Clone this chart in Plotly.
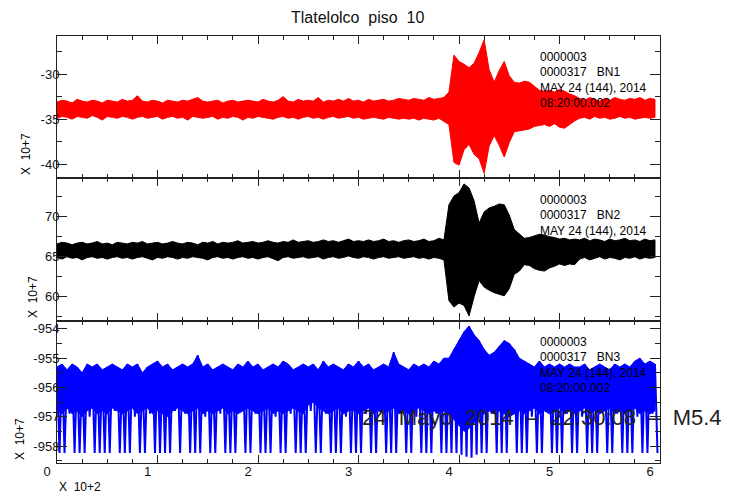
import plotly.graph_objects as go
from plotly.subplots import make_subplots

# ---------------- data (envelope samples) ----------------
DT = 0.05  # bin width in units of 10^2 s

bn1_hi = [-33.1,-32.9,-33.0,-33.2,-32.8,-33.0,-33.1,-32.9,-33.0,-33.2,
          -32.9,-33.0,-33.1,-32.8,-33.0,-32.9,-32.4,-33.0,-33.1,-32.9,
          -33.0,-33.2,-32.9,-33.0,-33.1,-32.9,-33.0,-32.8,-32.6,-33.0,
          -33.1,-33.0,-32.9,-33.2,-33.0,-32.9,-33.1,-33.0,-32.9,-33.0,
          -33.1,-32.8,-33.0,-33.1,-32.9,-32.5,-33.0,-33.1,-32.8,-33.0,
          -32.9,-33.0,-32.6,-33.1,-32.9,-33.0,-32.8,-33.0,-32.7,-33.0,
          -32.9,-33.1,-32.8,-33.0,-32.9,-32.8,-33.0,-32.9,-32.7,-32.8,
          -32.9,-32.7,-32.8,-32.9,-32.6,-32.8,-32.7,-32.6,
          -32.0,-27.9,-28.6,-28.9,-29.3,-28.8,-27.6,-26.2,-29.5,-30.9,
          -29.6,-28.6,-30.2,-30.9,-31.0,-30.8,-30.9,-31.4,-31.8,-31.9,
          -31.8,-32.0,-31.7,-31.9,-32.2,-32.4,
          -32.7,-32.9,-32.6,-32.8,-33.0,-32.7,-32.9,-32.6,-32.8,-32.9,
          -32.7,-32.8,-32.6,-32.9,-32.7,-32.8]
bn1_lo = [-34.9,-34.7,-34.8,-35.0,-34.7,-34.8,-34.9,-34.6,-34.8,-35.1,
          -34.7,-34.8,-34.9,-34.7,-34.8,-35.0,-34.8,-34.7,-34.9,-34.8,
          -34.7,-35.0,-34.8,-34.7,-34.9,-34.8,-35.1,-34.7,-34.8,-34.9,
          -34.8,-34.7,-35.0,-34.8,-34.9,-34.7,-34.8,-35.1,-34.8,-34.9,
          -34.7,-34.8,-34.9,-35.0,-34.8,-34.7,-34.9,-34.8,-35.0,-34.8,
          -34.7,-34.9,-34.8,-35.0,-34.8,-34.7,-34.9,-34.8,-34.7,-34.9,
          -34.8,-35.0,-34.9,-34.8,-34.9,-35.0,-34.8,-34.9,-35.0,-34.9,
          -35.0,-34.9,-35.1,-34.9,-35.0,-35.1,-34.9,-35.2,
          -35.6,-39.8,-40.1,-38.4,-37.8,-38.9,-39.4,-41.0,-38.0,-36.8,
          -37.9,-39.2,-37.6,-36.4,-36.3,-36.2,-36.1,-35.8,-35.7,-35.6,
          -35.8,-35.5,-35.9,-36.0,-35.6,-35.2,
          -34.9,-34.8,-35.0,-34.7,-34.9,-34.8,-35.0,-34.9,-34.7,-34.9,
          -34.8,-35.0,-34.9,-34.8,-34.9,-34.8]

bn2_hi = [66.6,66.8,66.7,66.5,66.7,66.8,66.6,66.7,66.9,66.6,
          66.7,66.5,66.8,66.7,66.6,66.8,66.7,66.9,66.6,66.7,
          66.8,66.6,66.7,66.9,66.7,66.6,66.8,66.7,66.5,66.8,
          66.7,66.9,66.6,66.8,66.7,66.8,67.0,66.7,66.8,66.9,
          66.7,66.8,67.0,66.8,66.7,66.9,66.8,67.1,66.8,66.9,
          67.0,66.8,66.9,67.1,66.9,67.0,66.8,67.0,67.2,66.9,
          67.0,66.9,67.1,66.9,67.0,67.2,66.9,67.0,66.8,67.0,
          67.1,66.9,67.0,67.2,66.9,67.0,67.3,67.1,
          71.5,72.6,73.0,74.1,73.6,72.0,69.2,70.6,71.1,71.3,
          71.6,71.5,70.2,68.4,67.8,67.3,67.4,67.6,67.8,67.7,
          67.5,67.4,67.2,67.3,67.1,67.2,
          67.1,67.3,67.0,67.2,67.1,66.9,67.2,67.0,67.1,67.3,
          67.0,67.1,66.9,67.2,67.0,67.1]
bn2_lo = [64.9,64.7,65.0,64.8,64.9,64.6,64.9,65.0,64.8,64.9,
          64.7,64.9,65.0,64.8,64.9,64.7,64.9,65.0,64.8,64.6,
          64.9,64.8,65.0,64.9,64.7,64.9,64.8,65.0,64.9,64.8,
          64.6,64.9,65.0,64.8,64.9,64.7,64.9,65.0,64.8,64.9,
          64.7,64.9,65.0,64.8,64.5,64.9,65.0,64.8,64.9,65.0,
          64.8,64.9,65.0,64.7,64.9,65.0,64.8,64.9,65.1,64.9,
          64.8,65.0,64.9,64.7,64.9,65.0,64.8,64.9,65.0,64.8,
          64.9,65.0,64.8,64.9,64.7,64.9,64.8,64.6,
          59.5,58.7,59.2,58.9,57.6,60.0,62.0,61.2,60.8,60.5,
          60.3,60.1,61.0,62.8,63.2,64.0,63.9,63.5,63.3,63.2,
          63.6,63.8,64.1,63.9,64.1,64.0,
          64.7,64.9,64.6,64.8,65.0,64.7,64.9,64.8,64.6,64.9,
          64.8,65.0,64.7,64.9,64.8,64.9]

bn3_hi = [-955.3,-955.2,-955.4,-955.2,-955.3,-955.5,-955.2,-955.3,-955.2,-955.4,
          -955.3,-955.2,-955.3,-955.4,-955.2,-955.3,-955.2,-955.5,-955.3,-955.2,
          -955.1,-955.3,-955.2,-955.4,-955.3,-955.2,-955.3,-955.2,-954.9,-955.3,
          -955.2,-955.4,-955.3,-955.2,-955.3,-955.4,-955.2,-955.3,-955.1,-955.3,
          -955.2,-955.4,-955.3,-955.2,-955.3,-955.1,-955.2,-955.4,-955.3,-955.2,
          -955.3,-955.2,-955.4,-955.1,-955.3,-955.2,-955.3,-955.4,-955.2,-955.3,
          -955.1,-955.3,-955.2,-955.4,-955.3,-955.2,-955.3,-954.8,-955.2,-955.3,
          -955.4,-955.2,-955.3,-955.2,-955.3,-955.1,-955.2,-955.0,
          -955.0,-954.7,-954.4,-954.1,-953.9,-954.2,-954.4,-954.7,-954.9,-954.8,
          -954.6,-954.4,-954.5,-954.7,-955.0,-955.1,-955.2,-955.3,-955.1,-955.3,
          -955.2,-955.3,-955.2,-955.3,-955.2,-955.3,
          -955.3,-955.2,-955.4,-955.3,-955.2,-955.3,-955.4,-955.2,-955.3,-955.2,
          -955.3,-955.1,-955.0,-955.2,-955.1,-955.2]
# lower edge of the solid part of the BN3 band
bn3_core = [-956.8,-956.9,-956.7,-956.9,-956.8,-957.0,-956.8,-956.7,-956.9,-956.8,
            -956.9,-956.7,-956.8,-956.9,-956.8,-956.7,-956.9,-956.8,-956.7,-956.9,
            -956.8,-956.9,-957.0,-956.8,-956.7,-956.8,-956.9,-956.8,-956.7,-956.9,
            -956.8,-956.9,-956.8,-956.7,-956.9,-956.8,-956.9,-956.8,-956.7,-956.8,
            -956.9,-956.8,-956.7,-956.9,-956.8,-956.9,-956.8,-956.7,-956.8,-956.9,
            -956.6,-956.5,-956.7,-956.8,-956.9,-956.8,-956.7,-956.9,-956.8,-956.8,
            -956.9,-956.8,-956.7,-956.9,-956.8,-956.9,-956.8,-956.7,-956.9,-956.8,
            -956.9,-956.8,-956.7,-956.8,-956.9,-956.8,-956.9,-956.8,
            -956.9,-957.1,-957.3,-957.5,-957.4,-957.2,-957.0,-956.9,-956.8,-956.9,
            -956.8,-956.9,-957.0,-956.9,-956.8,-956.9,-956.8,-956.7,-956.9,-956.8,
            -956.9,-956.8,-956.7,-956.9,-956.8,-956.9,
            -956.8,-956.7,-956.9,-956.8,-956.9,-956.8,-956.7,-956.9,-956.8,-956.9,
            -956.8,-956.7,-956.9,-956.8,-956.9,-956.8]
# lowest excursion per bin (spikes reach the clipped floor near -958.24)
bn3_lo = [-958.24,-958.24,-956.9,-958.24,-958.24,-958.24,-957.0,-958.24,-958.24,-958.24,
          -958.24,-956.8,-958.24,-958.24,-958.24,-957.0,-958.24,-958.24,-956.9,-958.24,
          -958.24,-958.24,-958.24,-956.8,-958.24,-956.9,-958.24,-958.24,-958.24,-957.0,
          -958.24,-958.24,-956.9,-958.24,-958.24,-958.24,-956.8,-958.24,-958.24,-956.9,
          -958.24,-958.24,-958.24,-957.0,-958.24,-958.24,-956.9,-958.24,-958.24,-958.24,
          -956.8,-958.24,-958.24,-956.9,-958.24,-958.24,-958.24,-957.0,-958.24,-958.24,
          -958.24,-956.9,-958.24,-958.24,-956.8,-958.24,-958.24,-958.24,-956.9,-958.24,
          -958.24,-957.0,-958.24,-958.24,-958.24,-956.9,-958.24,-958.24,-958.24,-958.24,
          -958.3,-958.37,-958.4,-958.3,-958.24,-958.24,-956.9,-958.24,-958.24,-958.24,
          -956.9,-958.24,-958.24,-958.24,-957.0,-958.24,-958.24,-956.8,-958.24,-958.24,
          -958.24,-956.9,-958.24,-958.24,-957.0,-958.24,-958.24,-958.24,-956.8,-958.24,
          -958.24,-956.9,-958.24,-958.24,-958.24,-957.0,-958.24,-958.24,-956.9,-958.24]

x_ticks = [0, 1, 2, 3, 4, 5, 6]
bn1_ticks = [-40, -35, -30]
bn2_ticks = [60, 65, 70]
bn3_ticks = [-958, -957, -956, -955, -954]

x_range = [0, 6.0]
bn1_range = [-41.56, -25.78]
bn2_range = [57.0, 74.8]
bn3_range = [-958.58, -953.72]

header = ["0000003", "0000317   BN{}", "MAY 24 (144), 2014", "08:20:00.002"]
title_text = "Tlatelolco  piso  10"
event_text = "24  Mayo  2014  \u2013  22:30:08  \u2013  M5.4"

# ---------------- figure ----------------
FONT = "Liberation Sans, Arial, sans-serif"
times = [i * DT for i in range(len(bn1_hi))]


def zigzag(hi, lo):
    xs, ys = [], []
    for t, h, l in zip(times, hi, lo):
        xs += [t, t + DT / 2]
        ys += [h, l]
    return xs, ys


fig = make_subplots(rows=3, cols=1, shared_xaxes=True, vertical_spacing=0)

# BN1 / BN2 : filled envelope of the trace
for row, (hi, lo, col) in enumerate([(bn1_hi, bn1_lo, "#ff0000"),
                                     (bn2_hi, bn2_lo, "#000000")], start=1):
    fig.add_trace(go.Scatter(x=times + times[::-1], y=hi + lo[::-1],
                             mode="lines", fill="toself", fillcolor=col,
                             line=dict(color=col, width=1),
                             showlegend=False, hoverinfo="skip"),
                  row=row, col=1)

# BN3 : solid core band + spikes down to the floor
fig.add_trace(go.Scatter(x=times + times[::-1], y=bn3_hi + bn3_core[::-1],
                         mode="lines", fill="toself", fillcolor="#0000ff",
                         line=dict(color="#0000ff", width=1),
                         showlegend=False, hoverinfo="skip"),
              row=3, col=1)
zx, zy = zigzag(bn3_hi, bn3_lo)
fig.add_trace(go.Scatter(x=zx, y=zy, mode="lines",
                         line=dict(color="#0000ff", width=2),
                         showlegend=False, hoverinfo="skip"),
              row=3, col=1)

axis_common = dict(showline=True, linecolor="#222", linewidth=1, mirror="ticks",
                   ticks="inside", tickcolor="#222", tickwidth=1.2,
                   showgrid=False, zeroline=False, automargin=False,
                   tickfont=dict(family=FONT, size=13, color="#111"))

for row in (1, 2, 3):
    fig.update_xaxes(range=x_range, tickvals=x_ticks,
                     ticktext=[str(v) for v in x_ticks],
                     ticklen=8, ticklabelshift=-10, ticklabelstandoff=-4,
                     minor=dict(dtick=0.25, ticklen=4, ticks="inside",
                                tickcolor="#222", tickwidth=1.1),
                     showticklabels=(row == 3),
                     row=row, col=1, **axis_common)

for row, (rng, tv, mdt) in enumerate([(bn1_range, bn1_ticks, 2.5),
                                      (bn2_range, bn2_ticks, 2.5),
                                      (bn3_range, bn3_ticks, 0.5)], start=1):
    fig.update_yaxes(range=rng, tickvals=tv, ticktext=[str(v) for v in tv],
                     ticklen=10, ticklabelstandoff=-6,
                     minor=dict(dtick=mdt, ticklen=5, ticks="inside",
                                tickcolor="#222", tickwidth=1.1),
                     row=row, col=1, **axis_common)

annotations = []
small = dict(family=FONT, size=12, color="#000")
line_y = {1: [57, 72, 88, 103], 2: [200, 215, 231, 246], 3: [342, 357, 373, 388]}
for row in (1, 2, 3):
    for k, txt in enumerate(header):
        annotations.append(dict(text=txt.format(row), xref="paper", yref="paper",
                                x=(538 - 57) / 603, y=1 - (line_y[row][k] - 36) / 427,
                                xanchor="left", yanchor="middle", showarrow=False,
                                font=small))

ylab_pos = {1: (26, 177), 2: (33, 320), 3: (20, 462)}
for row in (1, 2, 3):
    px, py = ylab_pos[row]
    annotations.append(dict(text="X  10+7", xref="paper", yref="paper",
                            x=(px - 57) / 603, y=1 - (py - 36) / 427,
                            xanchor="center", yanchor="bottom", textangle=-90,
                            showarrow=False, font=small))

annotations.append(dict(text="X  10+2", xref="paper", yref="paper",
                        x=0, y=1 - (487 - 36) / 427, xanchor="left", yanchor="middle",
                        showarrow=False, font=small))

annotations.append(dict(text=title_text, xref="paper", yref="paper",
                        x=(358 - 57) / 603, y=1 - (18 - 36) / 427,
                        xanchor="center", yanchor="middle", showarrow=False,
                        font=dict(family=FONT, size=16, color="#111")))

annotations.append(dict(text=event_text, xref="paper", yref="paper",
                        x=(360 - 57) / 603, y=1 - (417 - 36) / 427,
                        xanchor="left", yanchor="middle", showarrow=False,
                        font=dict(family=FONT, size=22, color="#222")))

fig.update_layout(width=735, height=496,
                  margin=dict(l=57, r=75, t=36, b=33),
                  paper_bgcolor="white", plot_bgcolor="white",
                  annotations=annotations)

fig.write_html("out.html", config={"displayModeBar": False},
               post_script="document.body.style.margin='0px';")
